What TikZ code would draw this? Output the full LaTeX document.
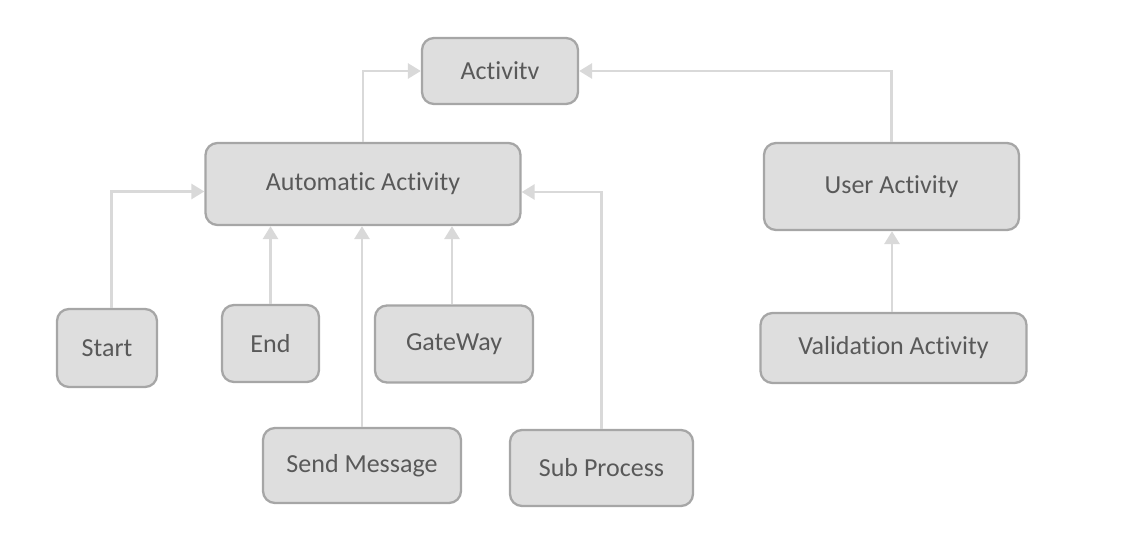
\documentclass[tikz,border=0pt]{standalone}
\usepackage{fontspec}
\setmainfont{Carlito}[Ligatures=NoCommon]
\usetikzlibrary{positioning,calc,arrows.meta}

\definecolor{boxfill}{HTML}{DEDEDE}
\definecolor{boxline}{HTML}{A6A6A6}
\definecolor{linkgray}{HTML}{D9D9D9}
\definecolor{textgray}{HTML}{595959}

\begin{document}
\begin{tikzpicture}[
    activity/.style={rectangle, rounded corners=0.24cm, draw=boxline, line width=1.3pt, fill=boxfill,
        text=textgray, font=\fontsize{14.8}{18}\selectfont, inner sep=0pt},
    link/.style={draw=linkgray, line width=1.6pt, -{Triangle[length=0.26cm, width=0.3cm]}}
]
\useasboundingbox (0,0) rectangle (22.86,-11.06);

% Define node positions
\node[activity, minimum width=3.12cm, minimum height=1.32cm] (act) at (10.0, -1.42) {Activitv};
\node[activity, minimum width=6.3cm, minimum height=1.64cm] (auto) at (7.26, -3.68) {Automatic Activity};
\node[activity, minimum width=5.1cm, minimum height=1.74cm] (user) at (17.83, -3.73) {User Activity};
\node[activity, minimum width=2.0cm, minimum height=1.56cm] (start) at (2.14, -6.96) {Start};
\node[activity, minimum width=1.94cm, minimum height=1.54cm] (end) at (5.41, -6.87) {End};
\node[activity, minimum width=3.16cm, minimum height=1.54cm] (gate) at (9.08, -6.88) {GateWay};
\node[activity, minimum width=5.32cm, minimum height=1.40cm] (valid) at (17.87, -6.96) {Validation Activity};
\node[activity, minimum width=3.96cm, minimum height=1.5cm] (send) at (7.24, -9.31) {Send Message};
\node[activity, minimum width=3.66cm, minimum height=1.52cm] (sub) at (12.03, -9.36) {Sub Process};

% Draw links to the parent activities
\draw[link] (auto.north) |- (act.west);
\draw[link] (user.north) |- (act.east);
\draw[link] ([xshift=0.09cm]start.north) |- ([yshift=-0.15cm]auto.west);
\draw[link] (end.north) -- (end.north |- auto.south);
\draw[link] ([xshift=-0.04cm]gate.north) -- ([xshift=-0.04cm]gate.north |- auto.south);
\draw[link] (send.north) -- (send.north |- auto.south);
\draw[link] (sub.north) |- ([yshift=-0.16cm]auto.east);
\draw[link] ([xshift=-0.03cm]valid.north) -- ([xshift=-0.03cm]valid.north |- user.south);

\end{tikzpicture}
\end{document}
